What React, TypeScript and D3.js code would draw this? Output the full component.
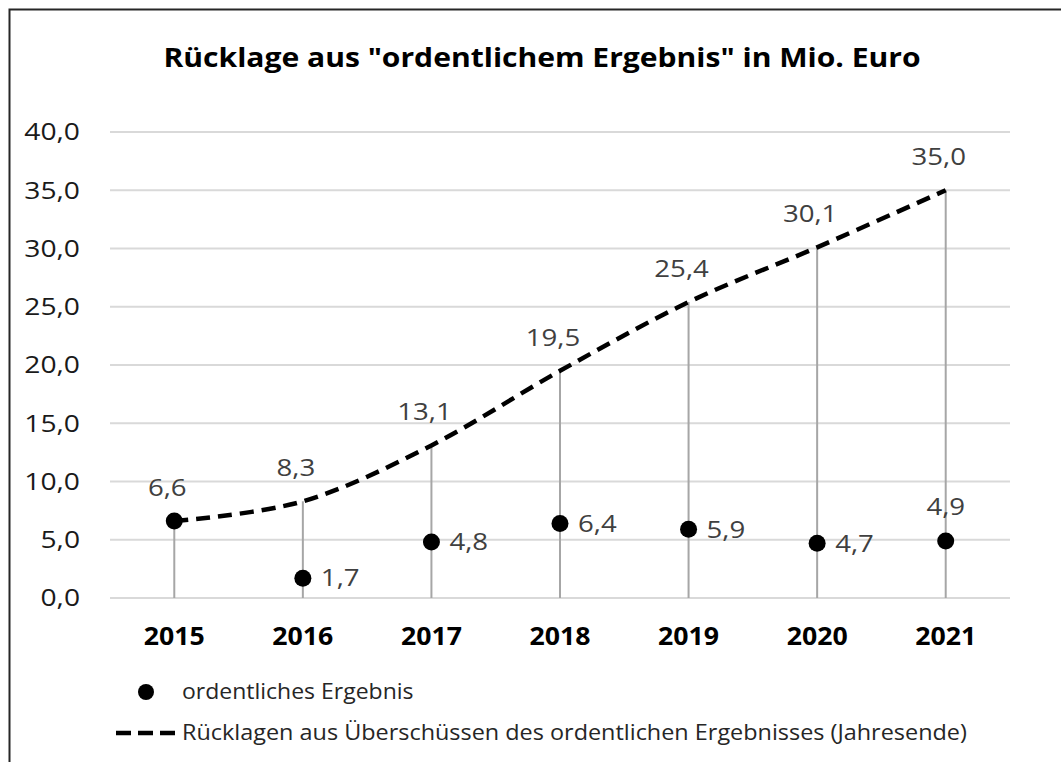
import React from "react";
import * as d3 from "d3";

const years = ["2015", "2016", "2017", "2018", "2019", "2020", "2021"];
const ergebnis = [6.6, 1.7, 4.8, 6.4, 5.9, 4.7, 4.9];
const ruecklagen = [6.6, 8.3, 13.1, 19.5, 25.4, 30.1, 35.0];
const yTicks = [0, 5, 10, 15, 20, 25, 30, 35, 40];
const title = 'Rücklage aus "ordentlichem Ergebnis" in Mio. Euro';
const legendDot = "ordentliches Ergebnis";
const legendLine = "Rücklagen aus Überschüssen des ordentlichen Ergebnisses (Jahresende)";

const W = 1061;
const H = 762;
const FONT = "'Open Sans', 'Noto Sans', sans-serif";

const fmt = (v: number) => v.toFixed(1).replace(".", ",");

type TProps = {
  x: number;
  y: number;
  sx: number;
  anchor?: "start" | "middle" | "end";
  size: number;
  weight?: number;
  fill: string;
  dy?: string;
  children: React.ReactNode;
};

function T({ x, y, sx, anchor = "start", size, weight = 400, fill, dy, children }: TProps) {
  return (
    <text
      transform={`translate(${x},${y}) scale(${sx},1)`}
      dy={dy}
      textAnchor={anchor}
      fontFamily={FONT}
      fontWeight={weight}
      fontSize={size}
      fill={fill}
    >
      {children}
    </text>
  );
}

export default function App() {
  const x = d3.scaleBand<string>().domain(years).range([110, 1010]);
  const cx = (yr: string) => (x(yr) as number) + x.bandwidth() / 2;
  const y = d3.scaleLinear().domain([0, 40]).range([598, 132]);

  const line = d3
    .line<number>()
    .x((_, i) => cx(years[i]))
    .y((d) => y(d))
    .curve(d3.curveCardinal.tension(0));

  return (
    <div style={{ position: "absolute", left: 0, top: 0 }}>
      <svg width={W} height={H} style={{ display: "block", background: "#fff" }}>
        <rect x={0} y={0} width={W} height={H} fill="#fff" />
        <rect x={9.5} y={9.5} width={1200} height={900} fill="none" stroke="#262626" strokeWidth={2} />
        <T x={542} y={67} sx={1.135} anchor="middle" size={26.5} weight={700} fill="#000">
          {title}
        </T>
        {yTicks.map((t) => (
          <g key={t}>
            <line x1={110} x2={1010} y1={y(t)} y2={y(t)} stroke="#d9d9d9" strokeWidth={1.8} />
            <T x={80} y={y(t)} sx={1.2} dy="0.36em" anchor="end" size={23.5} fill="#1a1a1a">
              {fmt(t)}
            </T>
          </g>
        ))}
        {years.map((yr, i) => (
          <line key={"d" + yr} x1={cx(yr)} x2={cx(yr)} y1={y(ruecklagen[i])} y2={y(0)} stroke="#a6a6a6" strokeWidth={2} />
        ))}
        {years.map((yr) => (
          <T key={"x" + yr} x={cx(yr)} y={645} sx={1.09} anchor="middle" size={24.5} weight={700} fill="#000">
            {yr}
          </T>
        ))}
        <path d={line(ruecklagen) || ""} fill="none" stroke="#000" strokeWidth={4.5} strokeDasharray="14 8" />
        {years.map((yr, i) => (
          <circle key={"c" + yr} cx={cx(yr)} cy={y(ergebnis[i])} r={8.5} fill="#000" />
        ))}
        {years.map((yr, i) => (
          <T key={"l" + yr} x={cx(yr) - 7} y={y(ruecklagen[i]) - 25} sx={1.2} anchor="middle" size={23} fill="#404040">
            {fmt(ruecklagen[i])}
          </T>
        ))}
        {years.map((yr, i) =>
          i === 0 ? null : i === years.length - 1 ? (
            <T key={"e" + yr} x={cx(yr)} y={y(ergebnis[i]) - 26} sx={1.2} anchor="middle" size={23} fill="#404040">
              {fmt(ergebnis[i])}
            </T>
          ) : (
            <T key={"e" + yr} x={cx(yr) + 18} y={y(ergebnis[i])} sx={1.2} dy="0.36em" size={23} fill="#404040">
              {fmt(ergebnis[i])}
            </T>
          )
        )}
        <circle cx={146} cy={692} r={8} fill="#000" />
        <T x={182} y={699} sx={1.07} size={21.5} fill="#262626">
          {legendDot}
        </T>
        <line x1={116} x2={175} y1={733} y2={733} stroke="#000" strokeWidth={4.5} strokeDasharray="15 7" />
        <T x={182} y={740} sx={1.09} size={21.5} fill="#262626">
          {legendLine}
        </T>
      </svg>
    </div>
  );
}
